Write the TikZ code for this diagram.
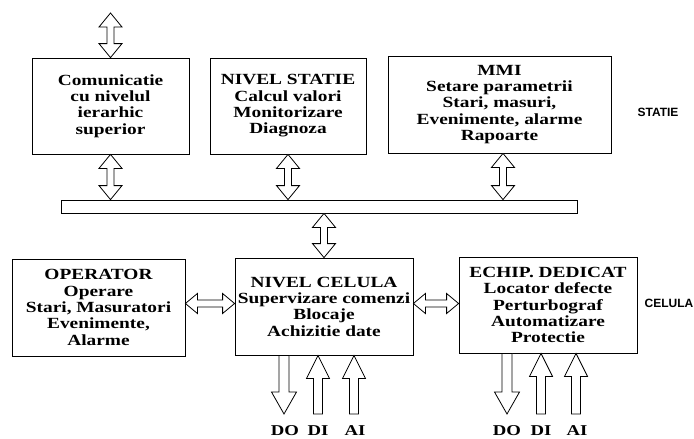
\documentclass[tikz,border=0pt]{standalone}
\usepackage{fontspec}
\setmainfont{Liberation Serif}[FakeStretch=1.25]
\setsansfont{Liberation Sans}
\usetikzlibrary{calc}
\tikzset{
  box/.style={draw, line width=0.8pt, inner sep=0pt, align=center,
    font=\fontsize{15.5}{16.3}\selectfont\bfseries},
  blockarrow/.style={draw, line width=0.8pt, fill=white, line join=miter},
  lvl/.style={font=\sffamily\bfseries\fontsize{12}{13}\selectfont},
  iolbl/.style={font=\fontsize{15}{16}\selectfont\bfseries}
}
% double vertical block arrow: #1 top point, #2 bottom point (x of #1)
\newcommand\dvarrow[2]{\draw[blockarrow] let \p1=#1,\p2=#2 in
  (\x1,\y1) -- ({\x1+11.5pt},{\y1-14pt}) -- ({\x1+3.5pt},{\y1-14pt}) --
  ({\x1+3.5pt},{\y2+14pt}) -- ({\x1+11.5pt},{\y2+14pt}) -- (\x1,\y2) --
  ({\x1-11.5pt},{\y2+14pt}) -- ({\x1-3.5pt},{\y2+14pt}) --
  ({\x1-3.5pt},{\y1-14pt}) -- ({\x1-11.5pt},{\y1-14pt}) -- cycle;}
% double horizontal block arrow: #1 left point, #2 right point (y of #1)
\newcommand\dharrow[2]{\draw[blockarrow] let \p1=#1,\p2=#2 in
  (\x1,\y1) -- ({\x1+12pt},{\y1+10pt}) -- ({\x1+12pt},{\y1+3.5pt}) --
  ({\x2-12pt},{\y1+3.5pt}) -- ({\x2-12pt},{\y1+10pt}) -- (\x2,\y1) --
  ({\x2-12pt},{\y1-10pt}) -- ({\x2-12pt},{\y1-3.5pt}) --
  ({\x1+12pt},{\y1-3.5pt}) -- ({\x1+12pt},{\y1-10pt}) -- cycle;}
% single block arrow from #1 (start, open end) to #2 (tip), vertical
\newcommand\downarrowblk[2]{\draw[blockarrow] let \p1=#1,\p2=#2 in
  ({\x1-5pt},\y1) -- ({\x1-5pt},{\y2+22pt}) -- ({\x1-12.5pt},{\y2+22pt}) --
  (\x1,\y2) -- ({\x1+12.5pt},{\y2+22pt}) -- ({\x1+5pt},{\y2+22pt}) --
  ({\x1+5pt},\y1) -- cycle;}
\newcommand\uparrowblk[2]{\draw[blockarrow] let \p1=#1,\p2=#2 in
  ({\x1-4.5pt},\y1) -- ({\x1-4.5pt},{\y2-23pt}) -- ({\x1-11.5pt},{\y2-23pt}) --
  (\x1,\y2) -- ({\x1+11.5pt},{\y2-23pt}) -- ({\x1+4.5pt},{\y2-23pt}) --
  ({\x1+4.5pt},\y1) -- cycle;}
\begin{document}
\begin{tikzpicture}[x=1pt,y=-1pt]
\useasboundingbox (0,0) rectangle (694,439);

% station level boxes
\node[box, minimum width=157pt, minimum height=96pt] (com) at (110.5,106)
  {Comunicatie\\cu nivelul\\ierarhic\\superior};
\node[box, minimum width=156pt, minimum height=96pt] (statie) at (288,106)
  {NIVEL STATIE\\Calcul valori\\Monitorizare\\Diagnoza};
\node[box, minimum width=223pt, minimum height=97pt] (mmi) at (499.5,104.5)
  {MMI\\Setare parametrii\\Stari, masuri,\\Evenimente, alarme\\Rapoarte};
\node[lvl] (lblstatie) at (658,112) {STATIE};

% bus
\node[draw, line width=0.8pt, minimum width=516pt, minimum height=13pt, inner sep=0pt] (bus) at (319,206.5) {};

% cell level boxes
\node[box, minimum width=173pt, minimum height=97pt] (oper) at (98.5,307.5)
  {OPERATOR\\Operare\\Stari, Masuratori\\Evenimente,\\Alarme};
\node[box, minimum width=178pt, minimum height=97pt] (celula) at (324,306.5)
  {NIVEL CELULA\\Supervizare comenzi\\Blocaje\\Achizitie date};
\node[box, minimum width=178pt, minimum height=96pt] (echip) at (548,305)
  {ECHIP. DEDICAT\\Locator defecte\\Perturbograf\\Automatizare\\Protectie};
\node[lvl] (lblcelula) at (669,303) {CELULA};

% connectors
\coordinate (topc) at (110.5,13);
\dvarrow{(topc)}{(com.north)}
\coordinate (mmix) at (503,0);
\dvarrow{(com.south)}{(com.south |- bus.north)}
\dvarrow{(statie.south)}{(statie.south |- bus.north)}
\dvarrow{(mmi.south -| mmix)}{(mmix |- bus.north)}
\dvarrow{(bus.south -| celula.north)}{(celula.north)}
\coordinate (hy) at (0,303.5);
\dharrow{(oper.east |- hy)}{(celula.west |- hy)}
\dharrow{(celula.east |- hy)}{(echip.west |- hy)}

% IO arrows and labels
\coordinate (do1) at (284,414);
\coordinate (di1) at (318,414);
\coordinate (ai1) at (354,414);
\coordinate (do2) at (507,414);
\coordinate (di2) at (541,414);
\coordinate (ai2) at (576,414);
\downarrowblk{(celula.south -| do1)}{(do1)}
\uparrowblk{(di1)}{(celula.south -| di1)}
\uparrowblk{(ai1)}{(celula.south -| ai1)}
\downarrowblk{(echip.south -| do2)}{(do2)}
\uparrowblk{(di2)}{(echip.south -| di2)}
\uparrowblk{(ai2)}{(echip.south -| ai2)}

\node[iolbl] (ldo1) at (285,431) {DO};
\node[iolbl] (ldi1) at (318,431) {DI};
\node[iolbl] (lai1) at (355,431) {AI};
\node[iolbl] (ldo2) at (507,431) {DO};
\node[iolbl] (ldi2) at (541,431) {DI};
\node[iolbl] (lai2) at (577,431) {AI};
\end{tikzpicture}
\end{document}
